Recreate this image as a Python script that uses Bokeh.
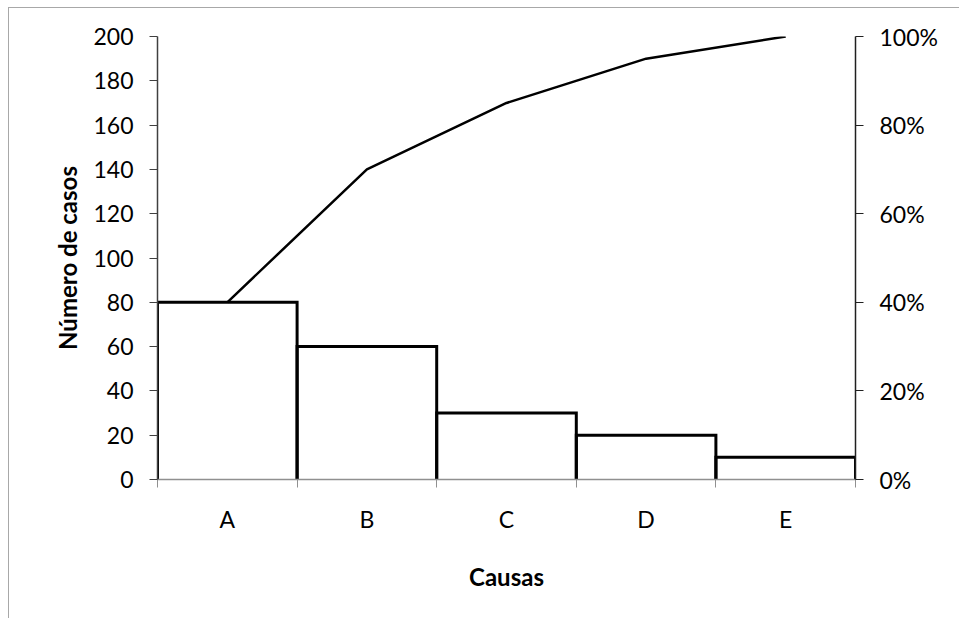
from bokeh.plotting import figure
from bokeh.models import LinearAxis, Range1d, FixedTicker, PrintfTickFormatter, ColumnDataSource
from bokeh.embed import file_html
from bokeh.resources import INLINE

# Pareto data: causes and number of cases
causas = ["A", "B", "C", "D", "E"]
casos = [80, 60, 30, 20, 10]

# cumulative counts (drawn on the left scale) and percentages (right scale)
acumulado = []
total = 0
for c in casos:
    total += c
    acumulado.append(total)
pct_ticks = [0, 20, 40, 60, 80, 100]
casos_ticks = [0, 20, 40, 60, 80, 100, 120, 140, 160, 180, 200]

FONT = "Lato"
TICK_SIZE = "23px"
LABEL_SIZE = "24px"

n = len(causas)
centers = [i + 0.5 for i in range(n)]
lefts = [i for i in range(n)]
rights = [i + 1 for i in range(n)]

# the chart sits inside a frame with a thin grey border on the top and left
p = figure(width=951, height=611, output_backend="svg", toolbar_location=None,
           x_range=Range1d(0, n), y_range=Range1d(0, 200),
           min_border_left=148, min_border_right=105,
           min_border_top=28, min_border_bottom=140)
p.styles = {"margin-left": "8px", "margin-top": "7px",
            "border-left": "1px solid #a8a8a8", "border-top": "1px solid #a8a8a8"}
p.extra_y_ranges = {"pct": Range1d(0, 100)}
p.xgrid.visible = False
p.ygrid.visible = False
p.outline_line_color = None
p.background_fill_color = "white"
p.border_fill_color = "white"

# bars: white fill, outline drawn as top + sides (bottom left to the axis)
src = ColumnDataSource(dict(x=centers, top=casos))
p.vbar(x="x", top="top", width=1, source=src, fill_color="white", line_color=None)
xs = [[l, l, r, r] for l, r in zip(lefts, rights)]
ys = [[0, v, v, 0] for v in casos]
p.multi_line(xs, ys, line_color="black", line_width=3, line_join="miter")

# cumulative curve
p.line(centers, acumulado, line_color="black", line_width=2.5)

# x axis: labels at the centres, ticks at the category boundaries
xa = p.xaxis[0]
xa.ticker = FixedTicker(ticks=centers, minor_ticks=list(range(n + 1)))
xa.major_label_overrides = {c: k for c, k in zip(centers, causas)}
xa.major_tick_out = 0
xa.major_tick_in = 0
xa.minor_tick_out = 8
xa.minor_tick_in = 0
xa.minor_tick_line_color = "#909090"
xa.axis_line_color = "#909090"
xa.axis_line_width = 1.5
xa.major_label_standoff = 17
xa.axis_label = "Causas"
xa.axis_label_standoff = 26
xa.axis_label_text_font = FONT
xa.axis_label_text_font_style = "bold"
xa.axis_label_text_font_size = LABEL_SIZE
xa.axis_label_text_color = "black"
xa.major_label_text_font = FONT
xa.major_label_text_font_size = TICK_SIZE
xa.major_label_text_color = "black"

# left axis: number of cases
ya = p.yaxis[0]
ya.ticker = FixedTicker(ticks=casos_ticks, minor_ticks=[])
ya.major_tick_out = 8
ya.major_tick_in = 0
ya.axis_line_color = "#404040"
ya.axis_line_width = 1.5
ya.major_tick_line_color = "#404040"
ya.major_label_standoff = 16
ya.axis_label = "Número de casos"
ya.axis_label_standoff = 8
ya.axis_label_text_font = FONT
ya.axis_label_text_font_style = "bold"
ya.axis_label_text_font_size = LABEL_SIZE
ya.axis_label_text_color = "black"
ya.major_label_text_font = FONT
ya.major_label_text_font_size = TICK_SIZE
ya.major_label_text_color = "black"

# right axis: cumulative percentage
ra = LinearAxis(y_range_name="pct", ticker=FixedTicker(ticks=pct_ticks, minor_ticks=[]),
                formatter=PrintfTickFormatter(format="%d%%"))
ra.major_tick_out = 8
ra.major_tick_in = 0
ra.axis_line_color = "#202020"
ra.axis_line_width = 1.5
ra.major_tick_line_color = "#202020"
ra.major_label_standoff = 16
ra.major_label_text_font = FONT
ra.major_label_text_font_size = TICK_SIZE
ra.major_label_text_color = "black"
p.add_layout(ra, "right")

open("out.html", "w").write(file_html(p, INLINE))
